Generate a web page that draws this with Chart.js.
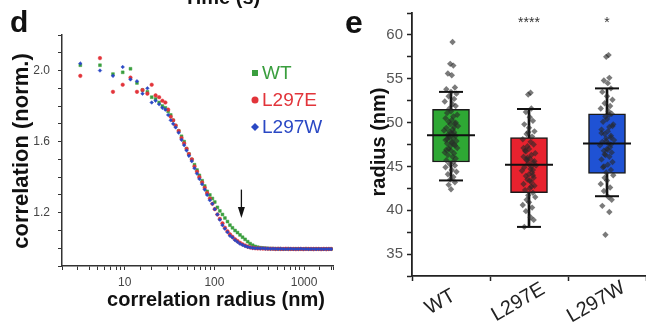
<!DOCTYPE html>
<html lang="en">
<head>
<meta charset="UTF-8">
<title>Correlation radius and cluster radius</title>
<script src="https://cdn.jsdelivr.net/npm/chart.js"></script>
<style>
  body { margin: 0; background: #fff; }
  #wrap { position: relative; width: 646px; height: 324px; overflow: hidden; }
  #corrChart { position: absolute; left: 0; top: 0; }
  #radiusChart { position: absolute; left: 340px; top: 0; }
</style>
</head>
<body>
<div id="wrap">
  <canvas id="corrChart" width="340" height="324"></canvas>
  <canvas id="radiusChart" width="306" height="324"></canvas>
</div>
<script>
// ---- panel d: correlation vs radius ----
const seriesNames = ['WT', 'L297E', 'L297W'];
const seriesColors = ['#3a9e3e', '#e2343a', '#2a48c4'];

const radii = [
  3.2, 5.3, 7.4, 9.5, 11.6, 13.7, 15.8, 17.9, 20, 22.1, 24.2, 26.3, 28.4, 30.5, 32.6, 34.7,
  37, 40, 43, 46, 49, 52, 56, 60, 64, 68, 73, 78, 83, 89, 95, 101,
  108, 115, 123, 131, 140, 149, 159, 170, 181, 193, 206, 220, 235, 250, 267, 285,
  304, 325, 347, 370, 395, 422, 450, 480, 513, 547, 584, 623, 665, 710, 758, 809,
  863, 921, 983, 1049, 1120, 1195, 1275, 1361, 1453, 1550, 1655, 1766, 1885, 2000
];
const wtCorr = [
  2.03, 2.03, 1.98, 1.99, 2.01, 1.93, 1.89, 1.88, 1.85, 1.84, 1.82, 1.80, 1.79, 1.77, 1.75, 1.72,
  1.69, 1.66, 1.63, 1.60, 1.56, 1.53, 1.50, 1.47, 1.44, 1.41, 1.38, 1.35, 1.32, 1.30, 1.28, 1.26,
  1.23, 1.21, 1.19, 1.17, 1.15, 1.13, 1.115, 1.10, 1.088, 1.075, 1.062, 1.05, 1.037, 1.026, 1.017, 1.01,
  1.006, 1.003, 1.001, 1.0, 0.999, 0.998, 0.998, 0.997, 0.997, 0.997, 0.996, 0.996, 0.997, 0.996, 0.996, 0.997,
  0.996, 0.996, 0.996, 0.997, 0.996, 0.995, 0.996, 0.996, 0.996, 0.995, 0.996, 0.996, 0.995, 0.996
];
const l297eCorr = [
  1.97, 2.07, 1.88, 1.92, 1.96, 1.88, 1.89, 1.87, 1.92, 1.86, 1.85, 1.83, 1.82, 1.78, 1.74, 1.72,
  1.69, 1.66, 1.62, 1.59, 1.56, 1.53, 1.50, 1.46, 1.43, 1.40, 1.37, 1.34, 1.31, 1.28, 1.25, 1.22,
  1.19, 1.165, 1.14, 1.115, 1.095, 1.078, 1.064, 1.05, 1.04, 1.03, 1.022, 1.015, 1.009, 1.005, 1.002, 1.0,
  0.999, 0.999, 0.998, 0.998, 0.997, 0.997, 0.997, 0.996, 0.997, 0.996, 0.996, 0.997, 0.996, 0.996, 0.996, 0.995,
  0.996, 0.996, 0.995, 0.996, 0.996, 0.996, 0.995, 0.996, 0.996, 0.995, 0.996, 0.995, 0.996, 0.996
];
const l297wCorr = [
  2.04, 2.00, 1.97, 2.02, 1.95, 1.94, 1.87, 1.90, 1.82, 1.83, 1.81, 1.79, 1.78, 1.75, 1.72, 1.70,
  1.68, 1.65, 1.61, 1.58, 1.55, 1.52, 1.49, 1.45, 1.42, 1.39, 1.36, 1.33, 1.30, 1.27, 1.25, 1.22,
  1.19, 1.16, 1.13, 1.11, 1.09, 1.07, 1.06, 1.045, 1.035, 1.025, 1.018, 1.012, 1.007, 1.004, 1.002, 1.0,
  1.0, 0.999, 1.0, 0.998, 0.998, 0.997, 0.997, 0.997, 0.996, 0.997, 0.996, 0.996, 0.996, 0.997, 0.996, 0.996,
  0.996, 0.997, 0.996, 0.996, 0.995, 0.996, 0.996, 0.995, 0.996, 0.996, 0.995, 0.996, 0.996, 0.995
];
const corrXTicks = [10, 100, 1000];
const corrYTicks = [1.2, 1.6, 2.0];
const corrYLabels = ['1.2', '1.6', '2.0'];
const arrowRadius = 200, arrowFrom = 1.33, arrowTo = 1.17;

// ---- panel e: radius box plots ----
const groups = ['WT', 'L297E', 'L297W'];
const boxColors = ['#2ea834', '#e8222e', '#1f52d4'];
const boxLow = [45.5, 42.0, 44.2];
const boxHigh = [51.5, 48.3, 51.0];
const medians = [48.55, 45.2, 47.6];
const whiskerLow = [43.4, 38.1, 41.6];
const whiskerHigh = [53.5, 51.55, 53.9];
const signif = ['', '****', '*'];
const radiusYTicks = [35, 40, 45, 50, 55, 60];

const wtRadius = [
  59.2, 56.7, 56.5, 55.6, 55.4, 54.0, 53.8, 53.5, 53.3, 53.0,
  52.7, 52.4, 52.1, 51.9, 51.6, 51.3, 51.1, 50.9, 50.7, 50.5,
  50.3, 50.1, 49.9, 49.8, 49.6, 49.4, 49.2, 49.1, 48.9, 48.8,
  48.6, 48.5, 48.3, 48.2, 48.0, 47.9, 47.7, 47.6, 47.4, 47.3,
  47.1, 47.0, 46.8, 46.6, 46.5, 46.3, 46.1, 45.9, 45.7, 45.5,
  45.3, 45.1, 44.9, 44.6, 44.4, 44.1, 43.8, 43.5, 43.2, 42.9,
  42.4, 48.7, 48.1, 47.5, 49.0, 50.0, 46.9, 47.8, 48.4, 49.5
];
const l297eRadius = [
  53.4, 53.2, 51.6, 51.2, 50.6, 50.2, 49.8, 49.4, 49.0, 48.7,
  48.4, 48.1, 47.8, 47.5, 47.3, 47.0, 46.8, 46.5, 46.3, 46.1,
  45.9, 45.7, 45.5, 45.3, 45.1, 44.9, 44.7, 44.5, 44.3, 44.1,
  43.9, 43.7, 43.5, 43.2, 43.0, 42.8, 42.5, 42.3, 42.0, 41.7,
  41.5, 41.2, 40.9, 40.6, 40.3, 39.9, 39.2, 38.9, 38.1, 45.0,
  46.0, 44.0, 47.1, 43.4, 45.6, 46.7, 42.7, 48.9, 44.6, 45.8
];
const l297wRadius = [
  57.7, 57.5, 55.1, 54.8, 54.5, 53.9, 53.5, 53.0, 52.6, 52.2,
  51.9, 51.6, 51.3, 51.0, 50.7, 50.4, 50.1, 49.8, 49.5, 49.2,
  49.0, 48.7, 48.5, 48.2, 48.0, 47.8, 47.6, 47.4, 47.2, 47.0,
  46.8, 46.6, 46.3, 46.1, 45.8, 45.5, 45.2, 44.9, 44.6, 44.3,
  44.0, 43.7, 43.4, 43.0, 42.6, 42.2, 41.5, 41.2, 40.5, 39.8,
  37.2, 47.5, 48.8, 46.9, 49.6, 45.0, 50.9, 47.9, 48.3, 46.4
];
// horizontal scatter of the dots around each category (category units)
const jitter = [
  0.02, -0.01, 0.03, -0.04, 0.01, 0.05, -0.06, 0.0, 0.07, -0.03,
  0.04, -0.08, 0.02, 0.06, -0.02, 0.0, -0.05, 0.08, 0.03, -0.07,
  0.01, -0.03, 0.05, -0.01, 0.09, -0.06, 0.02, -0.09, 0.04, 0.0,
  -0.04, 0.06, -0.02, 0.03, -0.07, 0.07, 0.01, -0.05, 0.05, -0.01,
  0.08, -0.03, 0.0, -0.08, 0.04, -0.04, 0.02, 0.06, -0.06, 0.03,
  -0.02, 0.05, -0.07, 0.01, 0.07, -0.04, 0.03, -0.01, 0.05, -0.03,
  0.0, 0.02, -0.05, 0.04, -0.02, 0.06, -0.06, 0.01, -0.03, 0.04
];

Chart.defaults.font.family = "'Liberation Sans', Arial, sans-serif";
const FONT = "'Liberation Sans', Arial, sans-serif";
const near = (a, b) => Math.abs(a - b) < 1e-6;

// ---------- chart d ----------
const corrSeries = [wtCorr, l297eCorr, l297wCorr];
const corrStyles = ['rect', 'circle', 'rectRot'];
const corrDatasets = corrSeries.map((vals, i) => ({
  label: seriesNames[i],
  data: radii.map((r, k) => ({ x: r, y: vals[k] })),
  pointStyle: corrStyles[i],
  pointRadius: i === 0 ? 2.0 : 1.8,
  backgroundColor: seriesColors[i],
  borderColor: seriesColors[i],
  borderWidth: 0.5,
  order: 2 - i   // L297W drawn on top
}));

const corrText = {
  id: 'corrText',
  afterDraw(chart) {
    const c = chart.ctx;
    const xs = chart.scales.x, ys = chart.scales.y;
    c.save();
    c.fillStyle = '#111';
    c.font = 'bold 30px ' + FONT;
    c.textAlign = 'left';
    c.fillText('d', 10, 32);
    c.font = 'bold 20px ' + FONT;
    c.textAlign = 'center';
    c.fillText('Time (s)', 222, 4);
    c.fillText('correlation radius (nm)', 216, 306);
    c.font = 'bold 22px ' + FONT;
    c.save();
    c.translate(28, 151);
    c.rotate(-Math.PI / 2);
    c.fillText('correlation (norm.)', 0, 0);
    c.restore();

    // legend
    c.font = '19px ' + FONT;
    c.textAlign = 'left';
    c.textBaseline = 'middle';
    const rows = [73, 100, 127];
    seriesNames.forEach((name, i) => {
      const y = rows[i];
      c.fillStyle = seriesColors[i];
      c.beginPath();
      if (i === 0) c.rect(252, y - 3, 6, 6);
      else if (i === 1) c.arc(255, y, 3.5, 0, Math.PI * 2);
      else { c.moveTo(255, y - 4); c.lineTo(259, y); c.lineTo(255, y + 4); c.lineTo(251, y); c.closePath(); }
      c.fill();
      c.fillText(name, 262, y + 1);
    });

    // arrow
    const ax = xs.getPixelForValue(arrowRadius);
    const y0 = ys.getPixelForValue(arrowFrom), y1 = ys.getPixelForValue(arrowTo);
    c.strokeStyle = '#111';
    c.fillStyle = '#111';
    c.lineWidth = 1.3;
    c.beginPath(); c.moveTo(ax, y0); c.lineTo(ax, y1 - 8); c.stroke();
    c.beginPath(); c.moveTo(ax - 3.5, y1 - 11); c.lineTo(ax + 3.5, y1 - 11); c.lineTo(ax, y1); c.closePath(); c.fill();
    c.restore();
  }
};

new Chart(document.getElementById('corrChart'), {
  type: 'scatter',
  data: { datasets: corrDatasets },
  options: {
    responsive: false,
    animation: false,
    layout: { autoPadding: false, padding: { top: 35, right: 7, left: 0, bottom: 0 } },
    plugins: { legend: { display: false }, tooltip: { enabled: false } },
    scales: {
      x: {
        type: 'logarithmic', min: 2, max: 2100,
        afterFit: s => { s.height = 58; },
        grid: { drawOnChartArea: false, tickLength: 4, tickColor: '#333' },
        border: { color: '#333', width: 1.5 },
        ticks: {
          autoSkip: false, maxRotation: 0, minRotation: 0, color: '#444', padding: 5,
          font: { size: 12 },
          callback: v => corrXTicks.some(t => near(t, v)) ? String(v) : ''
        }
      },
      y: {
        min: 0.9, max: 2.2,
        afterFit: s => { s.width = 62; },
        grid: { drawOnChartArea: false, tickLength: 4, tickColor: '#333' },
        border: { color: '#333', width: 1.5 },
        ticks: {
          stepSize: 0.1, color: '#444', padding: 8, font: { size: 12 },
          callback: v => {
            const k = corrYTicks.findIndex(t => near(t, v));
            return k >= 0 ? corrYLabels[k] : '';
          }
        }
      }
    }
  },
  plugins: [corrText]
});

// ---------- chart e ----------
const radiusSeries = [wtRadius, l297eRadius, l297wRadius];
const dots = [];
radiusSeries.forEach((vals, g) => {
  vals.forEach((v, k) => dots.push({ x: g + jitter[k], y: v }));
});

const radiusText = {
  id: 'radiusText',
  afterDraw(chart) {
    const c = chart.ctx;
    const xs = chart.scales.x;
    c.save();
    c.fillStyle = '#111';
    c.font = 'bold 32px ' + FONT;
    c.textAlign = 'left';
    c.fillText('e', 5, 33);
    c.font = 'bold 20px ' + FONT;
    c.textAlign = 'center';
    c.save();
    c.translate(45, 142);
    c.rotate(-Math.PI / 2);
    c.fillText('radius (nm)', 0, 0);
    c.restore();
    c.font = '14px ' + FONT;
    c.fillStyle = '#333';
    signif.forEach((s, g) => { if (s) c.fillText(s, xs.getPixelForValue(g), 27); });

    // slanted category names under the axis
    c.font = '20px ' + FONT;
    c.fillStyle = '#222';
    groups.forEach((name, g) => {
      c.save();
      c.translate(xs.getPixelForValue(g) - 8, xs.top + 31);
      c.rotate(-Math.PI / 6);
      c.fillText(name, 0, 0);
      c.restore();
    });
    c.restore();
  }
};

new Chart(document.getElementById('radiusChart'), {
  type: 'bar',
  data: {
    datasets: [
      {
        type: 'bar', label: 'whisker',
        data: groups.map((g, i) => ({ x: i, y: [whiskerLow[i], whiskerHigh[i]] })),
        backgroundColor: '#111', barThickness: 2, grouped: false, order: 5
      },
      {
        type: 'bar', label: 'box',
        data: groups.map((g, i) => ({ x: i, y: [boxLow[i], boxHigh[i]] })),
        backgroundColor: boxColors, borderColor: '#1a1a1a', borderWidth: 1.5,
        borderSkipped: false, barThickness: 37, grouped: false, order: 4
      },
      {
        type: 'scatter', label: 'dots', data: dots,
        pointStyle: 'rectRot', pointRadius: 3.2, borderWidth: 0,
        backgroundColor: 'rgba(40,40,40,0.62)', order: 3
      },
      {
        type: 'scatter', label: 'caps',
        data: groups.flatMap((g, i) => [{ x: i, y: whiskerLow[i] }, { x: i, y: whiskerHigh[i] }]),
        pointStyle: 'line', pointRadius: 12, borderWidth: 2, borderColor: '#111', order: 2
      },
      {
        type: 'scatter', label: 'median',
        data: groups.map((g, i) => ({ x: i, y: medians[i] })),
        pointStyle: 'line', pointRadius: 24, borderWidth: 2, borderColor: '#111', order: 1
      }
    ]
  },
  options: {
    responsive: false,
    animation: false,
    layout: { autoPadding: false, padding: { top: 13, right: 0, left: 0, bottom: 0 } },
    plugins: { legend: { display: false }, tooltip: { enabled: false } },
    scales: {
      x: {
        type: 'linear', min: -0.5, max: 2.5, offset: false,
        afterBuildTicks: s => { s.ticks = groups.map((g, i) => ({ value: i })); },
        afterFit: s => { s.height = 48; },
        grid: { drawOnChartArea: false, tickLength: 5, tickColor: '#222', tickWidth: 1.5 },
        border: { color: '#222', width: 1.8 },
        ticks: { display: false, autoSkip: false }
      },
      y: {
        min: 32.5, max: 62.5,
        afterBuildTicks: s => {
          const t = [];
          for (let v = 32.5; v <= 62.5 + 1e-9; v += 2.5) t.push({ value: v });
          s.ticks = t;
        },
        afterFit: s => { s.width = 72; },
        grid: { drawOnChartArea: false, tickLength: 5, tickColor: '#222', tickWidth: 1.5 },
        border: { color: '#222', width: 1.8 },
        ticks: {
          autoSkip: false, color: '#555', padding: 4, font: { size: 15 },
          callback: v => radiusYTicks.some(t => near(t, v)) ? String(v) : ''
        }
      }
    }
  },
  plugins: [radiusText]
});
</script>
</body>
</html>
